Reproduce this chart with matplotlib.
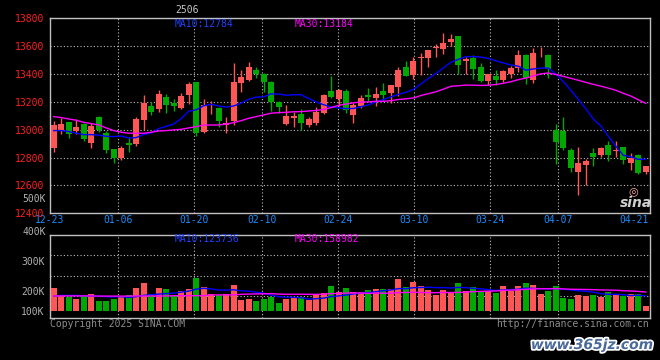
import numpy as np
import pandas as pd
import matplotlib
matplotlib.use('Agg')
import matplotlib.pyplot as plt
import matplotlib.patheffects as pe

W, H = 660, 360
FontSize = 7
UpColor = '#ff5555'
DownColor = '#00a800'
BorderColor = '#c0c0c0'
GridStyle = dict(color='#c0c0c0', linestyle=(0, (1, 2)), linewidth=0.8)

plt.rcParams['font.family'] = ['DejaVu Sans Mono', 'DejaVu Sans']

# date labels on the x axis (index of the trading day)
dates = ['12-23', '01-06', '01-20', '02-10', '02-24', '03-10', '03-24', '04-07', '04-21']
date_index = [0, 9, 19, 28, 38, 48, 58, 67, 77]

# daily candles
opens = [12869, 12990, 13052, 12988, 13040, 12905, 13088, 12974, 12860, 12798,
         12905, 12895, 13069, 13167, 13148, 13231, 13188, 13155, 13245, 13338,
         12981, 13176, 13155, 13036, 13062, 13334, 13355, 13426, 13402, 13340,
         13198, 13038, 13083, 13114, 13031, 13045, 13119, 13274, 13217, 13274,
         13102, 13171, 13245, 13224, 13274, 13260, 13302, 13452, 13388, 13512,
         13514, 13583, 13581, 13631, 13674, 13490, 13512, 13450, 13345, 13381,
         13352, 13402, 13445, 13538, 13352, 13560, 13538, 12998, 12988, 12852,
         12698, 12745, 12831, 12817, 12888, 12845, 12874, 12760, 12817, 12695]
highs = [13064, 13081, 13055, 13074, 13045, 13045, 13095, 12993, 12862, 12883,
         12945, 13088, 13250, 13198, 13283, 13252, 13219, 13264, 13338, 13340,
         13219, 13207, 13164, 13088, 13474, 13426, 13483, 13448, 13405, 13350,
         13202, 13174, 13124, 13145, 13088, 13160, 13255, 13381, 13290, 13290,
         13188, 13250, 13295, 13302, 13331, 13317, 13452, 13495, 13521, 13552,
         13574, 13612, 13695, 13688, 13674, 13524, 13538, 13474, 13395, 13426,
         13426, 13457, 13574, 13545, 13588, 13595, 13540, 13040, 13088, 12869,
         12874, 12788, 12867, 12874, 12917, 12917, 12876, 12831, 12824, 12740]
lows = [12838, 12969, 12940, 12969, 12917, 12869, 12981, 12831, 12762, 12783,
        12843, 12879, 13000, 13102, 13129, 13119, 13131, 13150, 13183, 12957,
        12976, 13112, 13021, 12979, 13036, 13269, 13348, 13369, 13267, 13131,
        13117, 13033, 13017, 12998, 13021, 13033, 13112, 13224, 13171, 13119,
        13045, 13155, 13207, 13171, 13207, 13188, 13243, 13383, 13364, 13393,
        13452, 13517, 13545, 13600, 13402, 13402, 13364, 13338, 13317, 13317,
        13338, 13367, 13410, 13326, 13331, 13524, 13367, 12755, 12852, 12693,
        12533, 12605, 12736, 12807, 12774, 12807, 12750, 12707, 12679, 12683]
closes = [13036, 13038, 12969, 13017, 12933, 13026, 12998, 12855, 12798, 12869,
          12890, 13074, 13188, 13126, 13252, 13179, 13171, 13238, 13326, 12976,
          13179, 13181, 13062, 13045, 13338, 13374, 13448, 13400, 13340, 13198,
          13162, 13098, 13095, 13045, 13074, 13124, 13250, 13231, 13283, 13140,
          13176, 13224, 13231, 13252, 13245, 13317, 13426, 13383, 13495, 13519,
          13574, 13590, 13624, 13652, 13462, 13505, 13433, 13345, 13395, 13352,
          13417, 13445, 13538, 13367, 13552, 13567, 13433, 12910, 12867, 12726,
          12760, 12774, 12807, 12867, 12817, 12852, 12781, 12795, 12688, 12738]
# volume in thousands (chart scale)
volumes = [227, 157, 140, 117, 153, 167, 97, 97, 117, 133,
           153, 227, 277, 167, 227, 217, 143, 197, 217, 330,
           240, 167, 157, 167, 257, 107, 117, 97, 117, 140,
           77, 117, 137, 137, 107, 153, 177, 247, 187, 227,
           187, 187, 207, 217, 217, 217, 317, 237, 287, 247,
           207, 157, 207, 177, 277, 197, 237, 197, 197, 180,
           247, 197, 247, 277, 257, 167, 197, 247, 127, 117,
           157, 150, 153, 133, 190, 167, 150, 167, 167, 47]

# moving averages before enough days are on the chart
price_ma10_head = [12993, 12993, 12986, 12974, 12964, 12964, 12960, 12952, 12950]
price_ma30_head = [13093, 13086, 13076, 13067, 13052, 13043, 13033, 13012, 12993, 12981,
                   12974, 12974, 12974, 12981, 12990, 12993, 12998, 13002, 13012, 13021,
                   13033, 13033, 13033, 13040, 13050, 13064, 13081, 13093, 13105]
vol_ma10_head = [147, 153, 153, 153, 150, 147, 145, 140, 138]
vol_ma30_head = [148, 148, 148, 148, 148, 148, 146, 146, 146, 146,
                 146, 147, 147, 147, 147, 147, 150, 150, 150, 150,
                 150, 158, 158, 158, 158, 164, 166, 168, 169]


def moving_average(values, head, n):
    ma = pd.Series(values, dtype=float).rolling(n).mean()
    ma.iloc[:len(head)] = head
    return ma.values


def px_rect(left, top, right, bottom):
    return [left / W, 1 - bottom / H, (right - left) / W, (bottom - top) / H]


def ftext(xp, yp, s, **kw):
    kw.setdefault('fontsize', FontSize)
    kw.setdefault('va', 'center')
    fig.text(xp / W, 1 - yp / H, s, **kw)


def style_axes(a):
    a.set_facecolor('black')
    for s in a.spines.values():
        s.set_color(BorderColor)
        s.set_linewidth(1)
    a.tick_params(length=0, labelsize=FontSize, pad=4)


o = np.array(opens, dtype=float)
c = np.array(closes, dtype=float)
N = len(closes)
x = np.arange(N) + 0.5
colors = np.where(c >= o, UpColor, DownColor)
tick_pos = [i * N / (N - 1) for i in date_index]

fig = plt.figure(figsize=(W / 100, H / 100), dpi=100, facecolor='black')
ax = fig.add_axes(px_rect(50, 18, 649.5, 213.3))
axv = fig.add_axes(px_rect(50, 234.7, 649.5, 318.3))

# price panel
style_axes(ax)
ax.set_xlim(0, N)
ax.set_ylim(12400, 13800)
ax.set_yticks(range(12400, 13801, 200))
ax.tick_params(axis='y', colors='#ff2020')
ax.set_xticks(tick_pos, dates)
ax.tick_params(axis='x', colors='#1a8cff', pad=1.5)
ax.grid(axis='y', **GridStyle)
for t in tick_pos[1:-1]:
    ax.axvline(t, **GridStyle)

ax.vlines(x, lows, highs, colors=colors, linewidth=1, zorder=2)
ax.bar(x, np.maximum(np.abs(c - o), 6), bottom=np.minimum(o, c), width=0.8,
       color=colors, linewidth=0, zorder=3)
ax.plot(x, moving_average(closes, price_ma10_head, 10), color='#0000ff', linewidth=1, zorder=4)
ax.plot(x, moving_average(closes, price_ma30_head, 30), color='#ff00ff', linewidth=1, zorder=4)

# volume panel
style_axes(axv)
axv.set_xlim(0, N)
axv.set_ylim(-76, 760)
axv.set_xticks([])
axv.set_yticks([0, 200, 500], ['100K', '200K', '300K'])
axv.tick_params(axis='y', colors='#b0b0b0')
for v in [150, 350, 557]:
    axv.axhline(v, **GridStyle)
for t in tick_pos[1:-1]:
    axv.axvline(t, **GridStyle)

axv.bar(x, volumes, width=0.8, color=colors, linewidth=0, zorder=3)
axv.plot(x, moving_average(volumes, vol_ma10_head, 10), color='#0000ff', linewidth=1, zorder=4)
axv.plot(x, moving_average(volumes, vol_ma30_head, 30), color='#ff00ff', linewidth=1, zorder=4)

# texts
ftext(175, 10, '2506', color='#c8c8c8')
ftext(175, 24, 'MA10:12784', color='#2040ff')
ftext(295, 24, 'MA30:13184', color='#ff00ff')
ftext(175, 238.5, 'MA10:123736', color='#2040ff')
ftext(295, 238.5, 'MA30:158982', color='#ff00ff')
ftext(46, 232, '400K', color='#b0b0b0', ha='right')
ftext(46, 199, '500K', color='#b0b0b0', ha='right')
ftext(50, 324, 'Copyright 2025 SINA.COM', color='#8c8c8c')
ftext(649, 324, 'http://finance.sina.com.cn', color='#8c8c8c', ha='right')

ftext(633, 191, '\u25ce', fontsize=8, color='#ffaaaa', ha='center', family='DejaVu Sans')
ftext(636, 203, 'sina', fontsize=10, weight='bold', style='italic', color='#d0d0d0',
      ha='center', family='DejaVu Sans')
ftext(592, 345, 'www.365jz.com', fontsize=10, weight='bold', style='italic', color='#4a6a9a',
      ha='center', family='DejaVu Sans',
      path_effects=[pe.withStroke(linewidth=2.5, foreground='white')])

fig.savefig('out.png', dpi=100, facecolor='black')
